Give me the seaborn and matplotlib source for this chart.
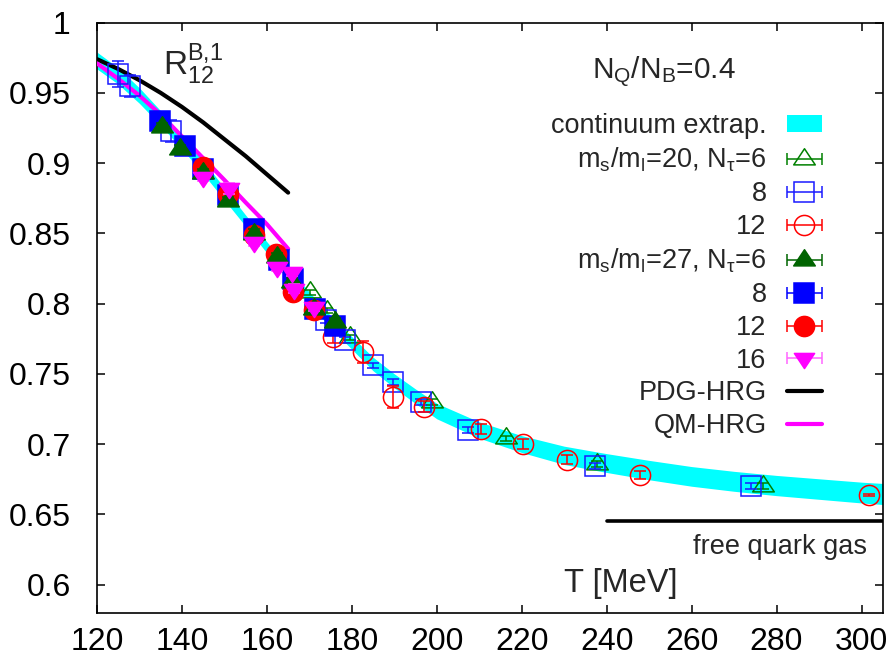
import numpy as np
import matplotlib
matplotlib.use("Agg")
import matplotlib.pyplot as plt
import seaborn as sns
from matplotlib.path import Path
from matplotlib.container import ErrorbarContainer
from matplotlib.legend_handler import HandlerErrorbar
from matplotlib.ticker import FuncFormatter

# ---------------- data ----------------
band_T = [120, 125, 130, 135, 140, 145, 150, 155, 160, 165, 170, 175, 180, 185,
          190, 195, 200, 210, 220, 230, 240, 250, 260, 270, 280, 290, 300, 305]
band_mid = [0.973, 0.962, 0.948, 0.932, 0.915, 0.897, 0.878, 0.859, 0.840, 0.822,
            0.804, 0.787, 0.772, 0.757, 0.745, 0.734, 0.7235, 0.710, 0.700, 0.692,
            0.6865, 0.6815, 0.677, 0.6735, 0.6705, 0.668, 0.6655, 0.6645]
band_hw = [0.006, 0.0058, 0.0055, 0.0052, 0.005, 0.0046, 0.0043, 0.004, 0.004, 0.004,
           0.0042, 0.0044, 0.0045, 0.0048, 0.005, 0.0052, 0.0055, 0.0058, 0.006, 0.0065,
           0.0067, 0.0069, 0.007, 0.0071, 0.0072, 0.0073, 0.0074, 0.0075]

pdg_T = [120, 125, 130, 135, 140, 145, 150, 155, 160, 165]
pdg_R = [0.974, 0.967, 0.959, 0.950, 0.940, 0.929, 0.917, 0.905, 0.892, 0.879]

qm_T = [120, 125, 130, 135, 140, 145, 150, 155, 160, 165]
qm_R = [0.971, 0.960, 0.948, 0.9345, 0.919, 0.9035, 0.888, 0.872, 0.8565, 0.839]

fqg_T = [240, 305]
fqg_R = [0.645, 0.645]

# m_s/m_l = 20 (open symbols)
o6_T = [170.1, 174.2, 179.5, 198.8, 216.4, 237.7, 276.8]
o6_R = [0.808, 0.795, 0.776, 0.730, 0.704, 0.686, 0.670]
o6_E = [0.002, 0.002, 0.002, 0.002, 0.002, 0.002, 0.002]

o8_T = [125.0, 127.8, 137.5, 173.8, 178.4, 185.0, 189.7, 196.2, 207.4, 237.2, 274.0]
o8_R = [0.9635, 0.955, 0.923, 0.788, 0.774, 0.756, 0.744, 0.730, 0.710, 0.6845, 0.670]
o8_E = [0.009, 0.008, 0.008, 0.002, 0.002, 0.002, 0.002, 0.002, 0.002, 0.002, 0.002]

o12_T = [175.6, 182.7, 189.7, 196.9, 210.3, 220.3, 230.6, 247.9, 301.7]
o12_R = [0.776, 0.7656, 0.7335, 0.7265, 0.711, 0.700, 0.689, 0.678, 0.6637]
o12_E = [0.004, 0.008, 0.008, 0.004, 0.0035, 0.0035, 0.0035, 0.0025, 0.001]

# m_s/m_l = 27 (filled symbols)
f6_T = [135.2, 139.5, 145.0, 150.8, 157.0, 162.3, 166.0, 171.0, 176.0]
f6_R = [0.9256, 0.910, 0.893, 0.873, 0.8498, 0.833, 0.8155, 0.796, 0.787]
f6_E = [0.003, 0.003, 0.003, 0.003, 0.003, 0.003, 0.003, 0.003, 0.003]

f8_T = [134.8, 140.7, 145.0, 150.8, 157.0, 162.8, 166.2, 171.3, 176.0]
f8_R = [0.930, 0.9125, 0.896, 0.877, 0.853, 0.831, 0.8178, 0.7965, 0.784]
f8_E = [0.003, 0.003, 0.003, 0.003, 0.003, 0.003, 0.003, 0.003, 0.003]

f12_T = [145.0, 150.8, 157.0, 162.2, 166.2, 171.0]
f12_R = [0.897, 0.878, 0.849, 0.8355, 0.8083, 0.7953]
f12_E = [0.003, 0.003, 0.003, 0.003, 0.003, 0.003]

f16_T = [145.0, 151.0, 157.0, 162.3, 165.8, 166.4, 171.2]
f16_R = [0.890, 0.882, 0.8438, 0.826, 0.8225, 0.8107, 0.7976]
f16_E = [0.003, 0.004, 0.003, 0.003, 0.003, 0.003, 0.003]

labels = ["continuum extrap.",
          "m$_s$/m$_l$=20, N$_τ$=6", "8", "12",
          "m$_s$/m$_l$=27, N$_τ$=6", "8", "12", "16",
          "PDG-HRG", "QM-HRG"]

xticks = [120, 140, 160, 180, 200, 220, 240, 260, 280, 300]
yticks = [0.6, 0.65, 0.7, 0.75, 0.8, 0.85, 0.9, 0.95, 1.0]

# ---------------- style ----------------
sns.set_theme(style="ticks")
plt.rcParams["font.family"] = ["Liberation Sans", "DejaVu Sans"]
plt.rcParams["mathtext.fontset"] = "custom"
plt.rcParams["mathtext.rm"] = "Liberation Sans"
plt.rcParams["mathtext.it"] = "Liberation Sans"
plt.rcParams["mathtext.bf"] = "Liberation Sans:bold"
plt.rcParams["mathtext.default"] = "rm"

fig = plt.figure(figsize=(8.95, 6.64), dpi=100)
ax = fig.add_axes([0.1084, 0.0773, 0.8779, 0.8886])

tri_up = Path([(-1, -0.5), (1, -0.5), (0, 1), (0, 0)],
              [Path.MOVETO, Path.LINETO, Path.LINETO, Path.CLOSEPOLY])
tri_dn = Path([(-1, 0.5), (1, 0.5), (0, -1), (0, 0)],
              [Path.MOVETO, Path.LINETO, Path.LINETO, Path.CLOSEPOLY])

# continuum band
bm = np.array(band_mid)
bh = np.array(band_hw)
band = ax.fill_between(band_T, bm - bh, bm + bh, color="#00ffff", lw=0, zorder=1)

# model curves with seaborn
sns.lineplot(x=pdg_T, y=pdg_R, color="black", lw=3.0, ax=ax, legend=False, zorder=2.5)
pdg_line = ax.lines[-1]
sns.lineplot(x=qm_T, y=qm_R, color="#ff00ff", lw=3.0, ax=ax, legend=False, zorder=2.6)
qm_line = ax.lines[-1]
sns.lineplot(x=fqg_T, y=fqg_R, color="black", lw=2.6, ax=ax, legend=False, zorder=2.5)


def eb(T, R, E, marker, color, filled, ms, z, ecolor=None):
    c = ax.errorbar(T, R, yerr=E, linestyle="none",
                    marker=marker, color=color, ecolor=ecolor or color,
                    mfc=color if filled else "none", mec=color, ms=ms,
                    mew=1.1, elinewidth=1.1, capsize=4, capthick=1.1, zorder=z)
    c.has_xerr = True
    c.has_yerr = False
    return c


h_o6 = eb(o6_T, o6_R, o6_E, tri_up, "#008000", False, 15.5, 4.0)
h_o8 = eb(o8_T, o8_R, o8_E, "s", "#1a1aff", False, 14.3, 4.1)
h_o12 = eb(o12_T, o12_R, o12_E, "o", "#ff0000", False, 14.5, 4.2)
h_f8 = eb(f8_T, f8_R, f8_E, "s", "#0000ff", True, 14.3, 5.0)
h_f12 = eb(f12_T, f12_R, f12_E, "o", "#ff0000", True, 14.5, 5.1)
h_f6 = eb(f6_T, f6_R, f6_E, tri_up, "#006400", True, 15.5, 5.2)
h_f16 = eb(f16_T, f16_R, f16_E, tri_dn, "#ff00ff", True, 14.5, 5.3, ecolor="#ff66ff")

# axes
ax.set_xlim(120, 305)
ax.set_ylim(0.58, 1.0)
ax.xaxis.set_major_locator(plt.FixedLocator(xticks))
ax.yaxis.set_major_locator(plt.FixedLocator(yticks))
ax.yaxis.set_major_formatter(FuncFormatter(lambda v, p: "%g" % round(v, 3)))
ax.tick_params(direction="in", length=6, width=1.1, top=True, right=True,
               labelsize=23, colors="black")
ax.tick_params(axis="x", pad=10)
ax.tick_params(axis="y", pad=19)
for s in ax.spines.values():
    s.set_visible(True)
    s.set_linewidth(1.2)
    s.set_color("black")
ax.set_xlabel("")
ax.set_ylabel("")
ax.grid(False)

# texts
ax.text(0.084, 0.911, "R$^{B{,}1}_{12}$", transform=ax.transAxes, fontsize=24,
        ha="left", va="baseline")
ax.text(0.722, 0.9046, "N$_Q$/N$_B$=0.4", transform=ax.transAxes, fontsize=21.5,
        ha="center", va="baseline")
ax.text(0.7395, 0.035, "T [MeV]", transform=ax.transAxes, fontsize=23.5,
        ha="right", va="baseline")
ax.text(0.9797, 0.0995, "free quark gas", transform=ax.transAxes, fontsize=19.5,
        ha="right", va="baseline")

# legend
handles = [band, h_o6, h_o8, h_o12, h_f6, h_f8, h_f12, h_f16, pdg_line, qm_line]
leg = ax.legend(handles, labels, loc="upper right", bbox_to_anchor=(0.9224, 0.8465),
                frameon=False, fontsize=19.5, markerfirst=False, numpoints=1,
                handlelength=1.3, handleheight=0.62, handletextpad=0.74,
                labelspacing=0.25, borderpad=0, borderaxespad=0,
                handler_map={ErrorbarContainer: HandlerErrorbar(xerr_size=0.65)})
for t in leg.get_texts():
    t.set_ha("right")

fig.savefig("out.png", dpi=100)
